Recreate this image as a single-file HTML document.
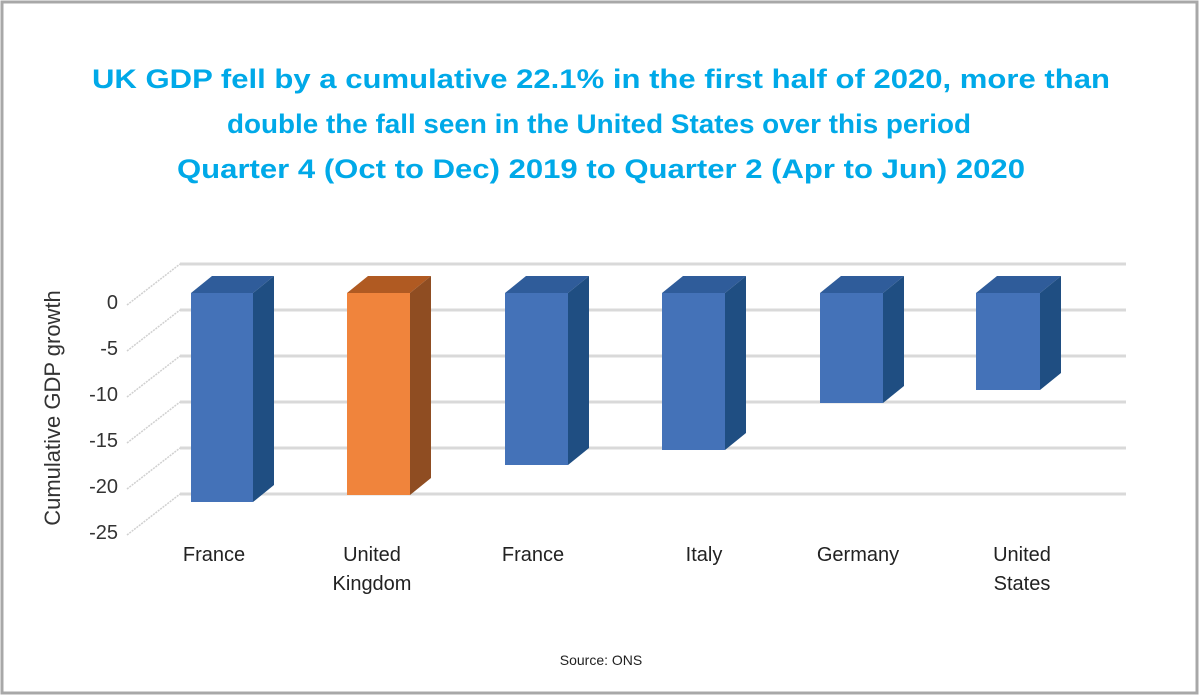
<!DOCTYPE html>
<html><head><meta charset="utf-8"><style>html,body{margin:0;padding:0;background:#fff}svg{display:block}</style></head><body>
<svg width="1200" height="696" viewBox="0 0 1200 696" xmlns="http://www.w3.org/2000/svg" font-family="Liberation Sans, Arial, sans-serif">
<rect x="2" y="2" width="1195" height="691" fill="#fff" stroke="#a8a8a8" stroke-width="3"/>
<g fill="#00a9e8" font-weight="bold" font-size="27" text-anchor="middle">
<text x="601" y="88" textLength="1018" lengthAdjust="spacingAndGlyphs">UK GDP fell by a cumulative 22.1% in the first half of 2020, more than</text>
<text x="599" y="133" textLength="744" lengthAdjust="spacingAndGlyphs">double the fall seen in the United States over this period</text>
<text x="601" y="178" textLength="848" lengthAdjust="spacingAndGlyphs">Quarter 4 (Oct to Dec) 2019 to Quarter 2 (Apr to Jun) 2020</text>
</g>
<g stroke="#d9d9d9" stroke-width="3">
<line x1="180" y1="264" x2="1126" y2="264"/>
<line x1="180" y1="310" x2="1126" y2="310"/>
<line x1="180" y1="356" x2="1126" y2="356"/>
<line x1="180" y1="402" x2="1126" y2="402"/>
<line x1="180" y1="448" x2="1126" y2="448"/>
<line x1="180" y1="494" x2="1126" y2="494"/>
</g>
<g stroke="#d0d0d0" stroke-width="1.5" stroke-dasharray="2,1">
<line x1="127" y1="305" x2="180" y2="264"/>
<line x1="127" y1="351" x2="180" y2="310"/>
<line x1="127" y1="397" x2="180" y2="356"/>
<line x1="127" y1="443" x2="180" y2="402"/>
<line x1="127" y1="489" x2="180" y2="448"/>
<line x1="127" y1="535" x2="180" y2="494"/>
</g>
<g>
<!-- bar: front x,w, bottom -->
<g>
<polygon points="191,293 212,276 274,276 253,293" fill="#2f5c9a"/>
<polygon points="253,293 274,276 274,485 253,502" fill="#1f4e82"/>
<rect x="191" y="293" width="62" height="209" fill="#4472b8"/>
</g>
<g>
<polygon points="347,293 368,276 431,276 410,293" fill="#b05a22"/>
<polygon points="410,293 431,276 431,478 410,495" fill="#8f4d22"/>
<rect x="347" y="293" width="63" height="202" fill="#f0843c"/>
</g>
<g>
<polygon points="505,293 526,276 589,276 568,293" fill="#2f5c9a"/>
<polygon points="568,293 589,276 589,448 568,465" fill="#1f4e82"/>
<rect x="505" y="293" width="63" height="172" fill="#4472b8"/>
</g>
<g>
<polygon points="662,293 683,276 746,276 725,293" fill="#2f5c9a"/>
<polygon points="725,293 746,276 746,433 725,450" fill="#1f4e82"/>
<rect x="662" y="293" width="63" height="157" fill="#4472b8"/>
</g>
<g>
<polygon points="820,293 841,276 904,276 883,293" fill="#2f5c9a"/>
<polygon points="883,293 904,276 904,386 883,403" fill="#1f4e82"/>
<rect x="820" y="293" width="63" height="110" fill="#4472b8"/>
</g>
<g>
<polygon points="976,293 997,276 1061,276 1040,293" fill="#2f5c9a"/>
<polygon points="1040,293 1061,276 1061,373 1040,390" fill="#1f4e82"/>
<rect x="976" y="293" width="64" height="97" fill="#4472b8"/>
</g>
</g>
<g font-size="20" fill="#333" text-anchor="end">
<text x="118" y="309">0</text>
<text x="118" y="355">-5</text>
<text x="118" y="401">-10</text>
<text x="118" y="447">-15</text>
<text x="118" y="493">-20</text>
<text x="118" y="539">-25</text>
</g>
<text transform="translate(60,408) rotate(-90)" font-size="22" fill="#333" text-anchor="middle">Cumulative GDP growth</text>
<g font-size="20" fill="#222" text-anchor="middle">
<text x="214" y="561">France</text>
<text x="372" y="561">United</text><text x="372" y="590">Kingdom</text>
<text x="533" y="561">France</text>
<text x="704" y="561">Italy</text>
<text x="858" y="561">Germany</text>
<text x="1022" y="561">United</text><text x="1022" y="590">States</text>
</g>
<text x="601" y="665" font-size="14" fill="#222" text-anchor="middle">Source: ONS</text>
</svg>
</body></html>
